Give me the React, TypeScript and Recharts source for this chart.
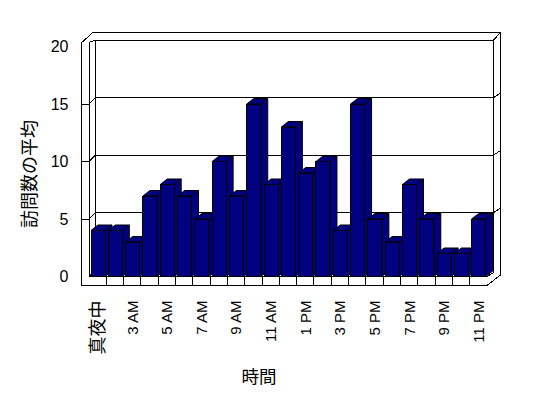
import React from 'react';
import { BarChart, Bar, XAxis, YAxis, CartesianGrid } from 'recharts';

// ---- data ----
const hours = [
  '真夜中', '2 AM', '3 AM', '4 AM', '5 AM', '6 AM', '7 AM', '8 AM', '9 AM', '10 AM', '11 AM',
  '正午', '1 PM', '2 PM', '3 PM', '4 PM', '5 PM', '6 PM', '7 PM', '8 PM', '9 PM', '10 PM', '11 PM',
];
const visits = [4, 4, 3, 7, 8, 7, 5, 10, 7, 15, 8, 13, 9, 10, 4, 15, 5, 3, 8, 5, 2, 2, 5];
const yTicks = [0, 5, 10, 15, 20];
const xTitle = '時間';
const yTitle = '訪問数の平均';

const data = hours.map((h, i) => ({ hour: h, v: visits[i] }));

// ---- layout ----
const W = 548;
const H = 398;
const YW = 60;
const XH = 60;
const M = { top: 46.5, right: 61, bottom: 61.5, left: 29 };
const L = M.left + YW;
const R = W - M.right;
const T = M.top;
const B = H - M.bottom - XH;
const DX = 6.7;
const DY = -6.5;
const BDX = 7;
const BDY = -5.5;
const WALL = 7.3;
const FLOOR = 9;
const NAVY = '#000080';
const NUM_FONT = '"Liberation Sans", Arial, sans-serif';
const CJK_FONT = '"Noto Sans CJK JP", "Liberation Sans", sans-serif';
const hasCJK = (s: string) => /[\u3000-\u9fff]/.test(s);

const Frame = () => {
  const outer = [
    [L - WALL, T - 4],
    [L + 4.3, T - 14.4],
    [R + 13.7, T - 14.4],
    [R + 13.7, B - 1.7],
    [R, B + FLOOR],
    [L - WALL, B + FLOOR],
  ]
    .map((p) => p.join(','))
    .join(' ');
  const band = (R - L) / hours.length;
  const ticks = hours.slice(1).map((_, i) => L + (i + 1) * band);
  return (
    <g stroke="#000" strokeWidth={1} fill="none" shapeRendering="crispEdges">
      <polygon points={outer} />
      <polyline
        points={`${L},${B} ${L},${T - 4} ${L + DX},${T + DY} ${R + DX},${T + DY} ${R + 13.7},${T - 14.4}`}
      />
      <line x1={R + DX} y1={T + DY} x2={R + DX} y2={B - 4} />
      <line x1={R + DX} y1={B - 4} x2={R} y2={B} />
      <line x1={L + DX} y1={T + DY} x2={L + DX} y2={B + DY} />
      <line x1={L + DX} y1={B + DY} x2={R + DX} y2={B + DY} />
      <line x1={L} y1={B} x2={L + DX} y2={B + DY} />
      <line x1={L} y1={B} x2={R} y2={B} />
      {ticks.map((x, i) => (
        <line key={i} x1={x} y1={B} x2={x} y2={B + FLOOR} />
      ))}
    </g>
  );
};

const GridLine = (p: any) => {
  const y = p.y1;
  if (y <= T + 0.5 || y >= B - 0.5) return <g key={p.key} />;
  return (
    <g key={p.key} stroke="#000" strokeWidth={1} shapeRendering="crispEdges">
      <line x1={L - WALL} y1={y} x2={L} y2={y} />
      <line x1={L} y1={y} x2={L + DX} y2={y + DY} />
      <line x1={L + DX} y1={y + DY} x2={R + DX} y2={y + DY} />
      <line x1={R + DX} y1={y + DY} x2={R + 13.7} y2={y + DY - 4.5} />
    </g>
  );
};

const Bar3D = (p: any) => {
  const { x, y, width, height } = p;
  if (height == null || width == null) return null;
  const x2 = x + width;
  const yb = y + height;
  return (
    <g stroke="#000" strokeWidth={1} fill={NAVY}>
      <polygon points={`${x2},${y} ${x2 + BDX},${y + BDY} ${x2 + BDX},${yb + BDY} ${x2},${yb}`} />
      <polygon points={`${x},${y} ${x + BDX},${y + BDY} ${x2 + BDX},${y + BDY} ${x2},${y}`} />
      <rect x={x} y={y} width={width} height={height} shapeRendering="crispEdges" />
    </g>
  );
};

const CatTick = (p: any) => {
  const { x, y, payload } = p;
  const cjk = hasCJK(String(payload.value));
  return (
    <text
      x={x}
      y={y}
      transform={`rotate(-90 ${x} ${y})`}
      textAnchor="end"
      dy={cjk ? '0.38em' : '0.36em'}
      fontSize={cjk ? 18 : 15}
      fontFamily={cjk ? CJK_FONT : NUM_FONT}
      fill="#000"
      stroke="none"
    >
      {payload.value}
    </text>
  );
};

const XTitle = (p: any) => {
  const vb = p.viewBox || {};
  const x = vb.x + vb.width / 2 - 29;
  const y = vb.y + 99.5;
  return (
    <text x={x} y={y} textAnchor="middle" dy="0.38em" fontSize={17.5} fontFamily={CJK_FONT} fill="#000">
      {xTitle}
    </text>
  );
};

const YTitle = (p: any) => {
  const vb = p.viewBox || {};
  const x = vb.x;
  const y = vb.y + vb.height / 2 + 12.5;
  return (
    <text
      x={x}
      y={y}
      transform={`rotate(-90 ${x} ${y})`}
      textAnchor="middle"
      dy="0.38em"
      fontSize={18}
      fontFamily={CJK_FONT}
      fill="#000"
    >
      {yTitle}
    </text>
  );
};

export default function App() {
  return (
    <div style={{ position: 'absolute', left: 0, top: 0, width: W, height: H, background: '#fff' }}>
      <BarChart width={W} height={H} data={data} margin={M} barSize={14}>
        <Frame />
        <CartesianGrid horizontal={GridLine} vertical={false} />
        <XAxis
          dataKey="hour"
          interval={1}
          height={XH}
          tickLine={false}
          axisLine={false}
          tickSize={6}
          tickMargin={18}
          tick={CatTick}
          label={XTitle}
        />
        <YAxis
          width={YW}
          domain={[0, 20]}
          ticks={yTicks}
          interval={0}
          tickLine={false}
          axisLine={false}
          tickSize={8}
          tickMargin={12.5}
          tick={{ fill: '#000', fontSize: 16, fontFamily: NUM_FONT }}
          label={YTitle}
        />
        <Bar dataKey="v" fill={NAVY} shape={Bar3D} isAnimationActive={false} />
      </BarChart>
    </div>
  );
}
